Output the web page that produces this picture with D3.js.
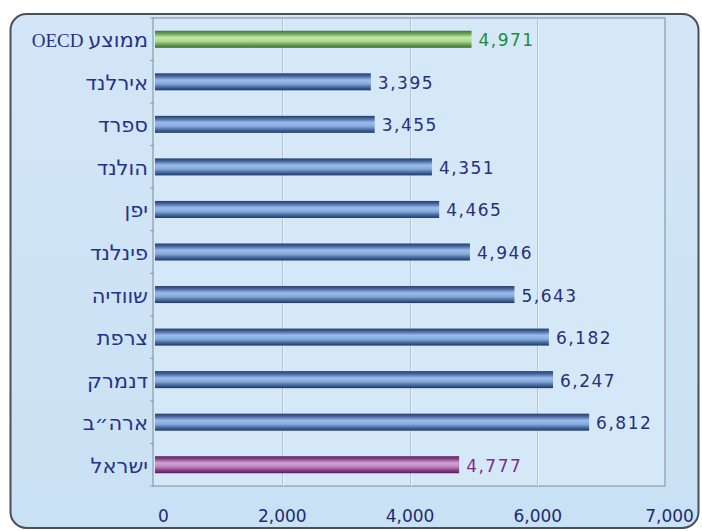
<!DOCTYPE html>
<html>
<head>
<meta charset="utf-8">
<script src="https://cdn.jsdelivr.net/npm/d3@7"></script>
<style>
  body { margin: 0; background: #fff; }
  svg { display: block; }
</style>
</head>
<body>
<svg class="barViz" width="702" height="531"></svg>
<script>
// countries top to bottom
const categories = ['ממוצע OECD', 'אירלנד', 'ספרד', 'הולנד', 'יפן', 'פינלנד', 'שוודיה', 'צרפת', 'דנמרק', 'ארה״ב', 'ישראל'];
const values = [4971, 3395, 3455, 4351, 4465, 4946, 5643, 6182, 6247, 6812, 4777];
// which gradient each bar gets
const barKinds = ['oecd', 'country', 'country', 'country', 'country', 'country', 'country', 'country', 'country', 'country', 'israel'];

const tickValues = [0, 2000, 4000, 6000, 8000];
const tickLabels = ['0', '2,000', '4,000', '6,000', '7,000'];
const gridValues = [2000, 4000, 6000];

const rows = categories.map((c, i) => ({name: c, value: values[i], kind: barKinds[i]}));

const plot = {left: 154, right: 665, top: 18, bottom: 486};

const svg = d3.select('svg.barViz');
const defs = svg.append('defs');

const gradStops = {
  country: ['#243d68', '#4a6ca4', '#9cbde9', '#86a9dd', '#456aa2', '#21385f'],
  oecd:    ['#3c7632', '#6ea457', '#c6e8a8', '#aad88c', '#6aa052', '#386c2e'],
  israel:  ['#5a1f5c', '#8d4a8e', '#d4a2d4', '#bf84c0', '#86428a', '#531b55']
};
const stopOffsets = ['0%', '18%', '40%', '62%', '82%', '100%'];

Object.keys(gradStops).forEach(k => {
  const g = defs.append('linearGradient')
    .attr('id', 'grad-' + k)
    .attr('x1', 0).attr('y1', 0).attr('x2', 0).attr('y2', 1);
  gradStops[k].forEach((c, i) => {
    g.append('stop').attr('offset', stopOffsets[i]).attr('stop-color', c);
  });
});

const panelGrad = defs.append('linearGradient')
  .attr('id', 'panelGrad')
  .attr('x1', 0).attr('y1', 0).attr('x2', 0).attr('y2', 1);
panelGrad.append('stop').attr('offset', '0%').attr('stop-color', '#d3e6f7');
panelGrad.append('stop').attr('offset', '100%').attr('stop-color', '#c9e1f4');

// outer rounded panel
svg.append('rect')
  .attr('x', 10.5).attr('y', 14)
  .attr('width', 688).attr('height', 514)
  .attr('rx', 16).attr('ry', 16)
  .style('fill', 'url(#panelGrad)')
  .style('stroke', '#4b4f57')
  .style('stroke-width', 2);

// plot area
svg.append('rect')
  .attr('x', plot.left - 1).attr('y', plot.top)
  .attr('width', plot.right - plot.left + 1).attr('height', plot.bottom - plot.top)
  .style('fill', '#d5e8f8')
  .style('stroke', '#8c9aaa')
  .style('stroke-width', 1.2);

const x = d3.scaleLinear()
  .domain([0, 8000])
  .range([plot.left, plot.right]);

const y = d3.scaleBand()
  .domain(categories)
  .range([plot.top, plot.bottom])
  .paddingInner(0.6)
  .paddingOuter(0.3);

// grid lines
svg.selectAll('line.grid')
  .data(gridValues)
  .enter()
  .append('line')
  .attr('class', 'grid')
  .attr('x1', d => Math.round(x(d)) + 0.5)
  .attr('x2', d => Math.round(x(d)) + 0.5)
  .attr('y1', plot.top + 1)
  .attr('y2', plot.bottom)
  .style('stroke', '#b2c3d3')
  .style('stroke-width', 1);

svg.selectAll('line.gridHi')
  .data(gridValues)
  .enter()
  .append('line')
  .attr('class', 'gridHi')
  .attr('x1', d => Math.round(x(d)) + 1.5)
  .attr('x2', d => Math.round(x(d)) + 1.5)
  .attr('y1', plot.top + 1)
  .attr('y2', plot.bottom)
  .style('stroke', '#e6f1fb')
  .style('stroke-width', 1);

// small ticks on the category axis
const step = y.step();
svg.selectAll('line.catTick')
  .data(d3.range(categories.length + 1))
  .enter()
  .append('line')
  .attr('class', 'catTick')
  .attr('x1', plot.left - 4)
  .attr('x2', plot.left)
  .attr('y1', i => plot.top + i * step)
  .attr('y2', i => plot.top + i * step)
  .style('stroke', '#8c9aaa');

// bars
svg.selectAll('rect.bar')
  .data(rows)
  .enter()
  .append('rect')
  .attr('class', 'bar')
  .attr('x', x(0) + 1)
  .attr('y', d => y(d.name))
  .attr('width', d => x(d.value) - x(0) - 1)
  .attr('height', y.bandwidth())
  .style('fill', d => `url(#grad-${d.kind})`);

const valueColor = {country: '#27307a', oecd: '#1f8a3c', israel: '#7b2d8c'};

// value labels
svg.selectAll('text.valLabel')
  .data(rows)
  .enter()
  .append('text')
  .attr('class', 'valLabel')
  .attr('x', d => x(d.value) + 7)
  .attr('y', d => y(d.name) + y.bandwidth() / 2 + 7)
  .text(d => d3.format(',')(d.value))
  .style('fill', d => valueColor[d.kind])
  .style('font-family', 'DejaVu Sans')
  .style('font-size', '17px')
  .style('letter-spacing', '1.5px');

// category labels (Hebrew, right aligned)
const catLabels = svg.selectAll('text.catLabel')
  .data(rows)
  .enter()
  .append('text')
  .attr('class', 'catLabel')
  .attr('x', plot.left - 6)
  .attr('y', d => y(d.name) + y.bandwidth() / 2 + 8)
  .attr('direction', 'rtl')
  .style('text-anchor', 'start')
  .style('fill', '#26318a');

catLabels.selectAll('tspan')
  .data(d => d.name.split(' ').map((w, i) => ({w: w, first: i == 0})))
  .enter()
  .append('tspan')
  .text(d => d.first ? d.w : ' ' + d.w)
  .style('font-family', d => /[A-Z]/.test(d.w) ? 'Liberation Serif' : 'DejaVu Sans')
  .style('font-size', d => /[A-Z]/.test(d.w) ? '19px' : '21px');

// bottom axis
const xAxis = d3.axisBottom(x)
  .tickValues(tickValues)
  .tickFormat((d, i) => tickLabels[i])
  .tickSize(0)
  .tickPadding(24);

const axisG = svg.append('g')
  .attr('transform', `translate(0, ${plot.bottom})`)
  .call(xAxis);

axisG.select('.domain').remove();
axisG.selectAll('text')
  .attr('dx', (d, i) => i == 0 ? 9 : (i == tickValues.length - 1 ? 4 : 0))
  .style('fill', '#1f2a6e')
  .style('font-family', 'DejaVu Sans')
  .style('font-size', '17px');
</script>
</body>
</html>
